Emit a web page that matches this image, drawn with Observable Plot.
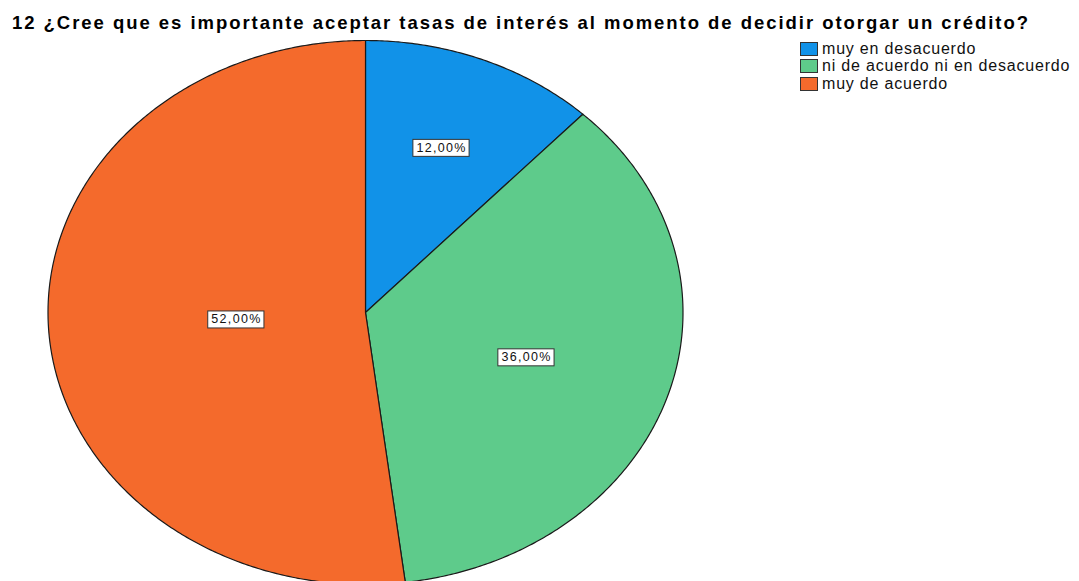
<!DOCTYPE html>
<html>
<head>
<meta charset="utf-8">
<script src="https://cdn.jsdelivr.net/npm/d3@7"></script>
<script src="https://cdn.jsdelivr.net/npm/@observablehq/plot@0.6"></script>
<style>
  html, body { margin: 0; padding: 0; background: #fff; }
  #wrap { position: relative; width: 1079px; height: 581px; overflow: hidden; font-family: "Liberation Sans", Arial, sans-serif; }
  #title { position: absolute; left: 12px; top: 13px; font-size: 18.5px; line-height: 20px; font-weight: bold; color: #000; white-space: nowrap; }
  #legend { position: absolute; left: 800px; top: 40px; font-size: 16px; color: #111; }
  .item { display: flex; align-items: center; height: 17.5px; white-space: nowrap; letter-spacing: 0.8px; }
  .sw { width: 16px; height: 12px; border: 1px solid #333; margin-right: 4px; box-sizing: content-box; }
  #chart { position: absolute; left: 0; top: 0; }
</style>
</head>
<body>
<div id="wrap">
  <div id="chart"></div>
  <div id="title"></div>
  <div id="legend"></div>
</div>
<script>
const titleText = "12 ¿Cree que es importante aceptar tasas de interés al momento de decidir otorgar un crédito?";
const categories = ["muy en desacuerdo", "ni de acuerdo ni en desacuerdo", "muy de acuerdo"];
const percents = [12, 36, 52];
const labels = ["12,00%", "36,00%", "52,00%"];
const colors = ["#1192e8", "#5ecb8b", "#f46a2c"];

const titleEl = document.getElementById("title");
titleEl.textContent = titleText;
// stretch title letter-spacing to the reference's glyph spacing
{
  const w0 = titleEl.getBoundingClientRect().width;
  const target = 1018;
  const ls = (target - w0) / titleText.length;
  titleEl.style.letterSpacing = ls + "px";
}
const legend = document.getElementById("legend");
categories.forEach((c, i) => {
  const row = document.createElement("div");
  row.className = "item";
  const sw = document.createElement("div");
  sw.className = "sw";
  sw.style.background = colors[i];
  const t = document.createElement("span");
  t.textContent = c;
  row.appendChild(sw); row.appendChild(t);
  legend.appendChild(row);
});

// Slice angles (clockwise from 12 o'clock)
const total = d3.sum(percents);
let acc = 0;
const slices = percents.map((p, i) => {
  const a0 = acc / total * 2 * Math.PI;
  acc += p;
  const a1 = acc / total * 2 * Math.PI;
  const pts = [{x: 0, y: 0}];
  const n = Math.max(2, Math.ceil((a1 - a0) / (Math.PI / 360)));
  for (let k = 0; k <= n; k++) {
    const a = a0 + (a1 - a0) * k / n;
    pts.push({x: Math.sin(a), y: Math.cos(a)});
  }
  pts.push({x: 0, y: 0});
  // sector centroid
  const half = (a1 - a0) / 2, mid = a0 + half;
  const d = 2 * Math.sin(half) / (3 * half);
  return {i, pts, label: {x: d * Math.sin(mid), y: d * Math.cos(mid), text: labels[i]}};
});

const plot = Plot.plot({
  width: 1079,
  height: 581,
  x: {domain: [-1, 1], range: [47.5, 682.5], axis: null},
  y: {domain: [-1, 1], range: [584, 40], axis: null},
  style: {background: "transparent", overflow: "visible"},
  marks: [
    ...slices.map(s => Plot.line(s.pts, {x: "x", y: "y", fill: colors[s.i], stroke: "#1a1a1a", strokeWidth: 1.2, strokeLinejoin: "round"})),
    Plot.text(slices.map(s => s.label), {x: "x", y: "y", text: "text", fontSize: 12.5, fill: "#111", fontFamily: "Liberation Sans, Arial, sans-serif", className: "lbl"})
  ]
});
document.getElementById("chart").appendChild(plot);

// white boxes behind labels
const svg = plot.tagName.toLowerCase() === "svg" ? plot : plot.querySelector("svg");
svg.querySelectorAll(".lbl text").forEach(t => {
  t.style.letterSpacing = "1.3px";
  const b = t.getBBox();
  const r = document.createElementNS("http://www.w3.org/2000/svg", "rect");
  const w = b.width + 6, h = 17;
  r.setAttribute("x", b.x + b.width / 2 - w / 2 - 0.6);
  r.setAttribute("y", b.y + b.height / 2 - h / 2);
  r.setAttribute("width", w);
  r.setAttribute("height", h);
  r.setAttribute("fill", "#fff");
  r.setAttribute("stroke", "#333");
  r.setAttribute("stroke-width", 1);
  if (t.getAttribute("transform")) r.setAttribute("transform", t.getAttribute("transform"));
  t.parentNode.insertBefore(r, t);
});
</script>
</body>
</html>
